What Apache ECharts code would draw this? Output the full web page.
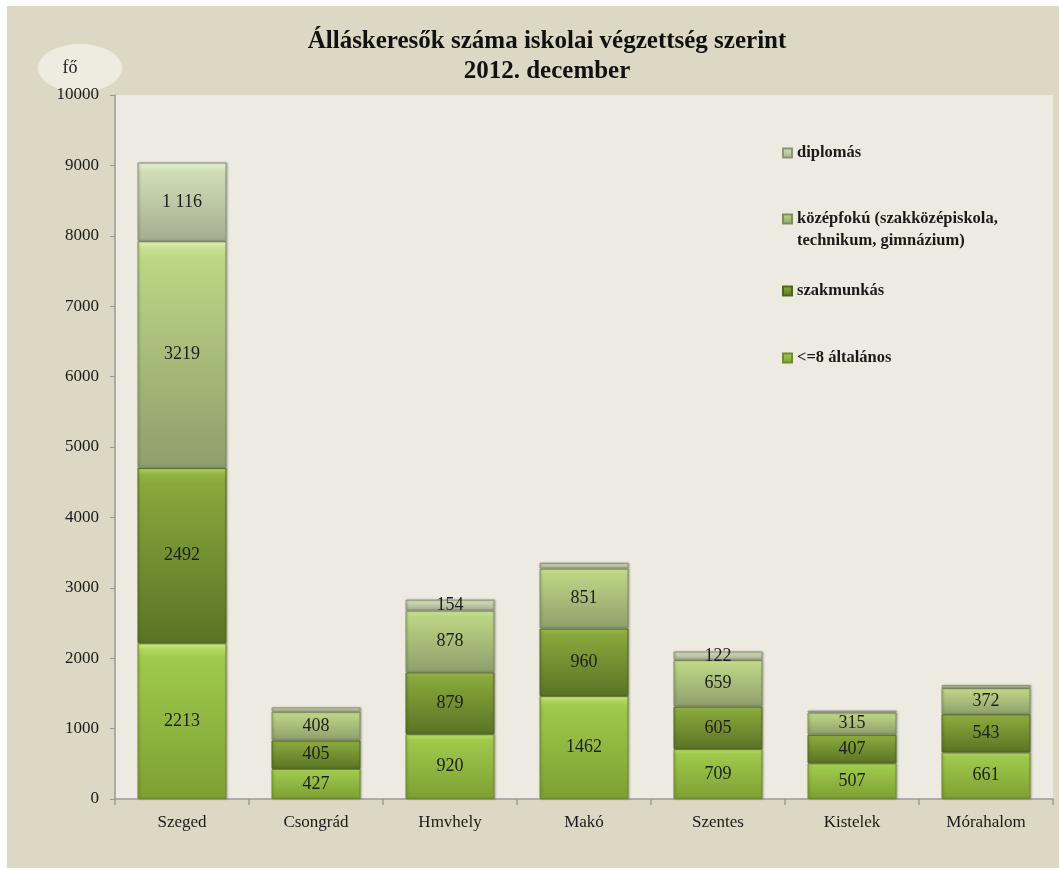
<!DOCTYPE html>
<html>
<head>
<meta charset="utf-8">
<script src="https://cdn.jsdelivr.net/npm/echarts@6/dist/echarts.min.js"></script>
<style>
  html, body { margin: 0; padding: 0; background: #ffffff; }
  #chart { position: absolute; left: 7px; top: 6px; width: 1052px; height: 862px; }
</style>
</head>
<body>
<div id="chart"></div>
<script>
// kategóriák és adatok (fő)
var categories = ['Szeged', 'Csongrád', 'Hmvhely', 'Makó', 'Szentes', 'Kistelek', 'Mórahalom'];
var altalanos = [2213, 427, 920, 1462, 709, 507, 661];
var szakmunkas = [2492, 405, 879, 960, 605, 407, 543];
var kozepfoku = [3219, 408, 878, 851, 659, 315, 372];
var diplomas = [1116, 61, 154, 82, 122, 25, 43];
var yMin = 0, yMax = 10000, yStep = 1000;

var serif = '"Liberation Serif", "DejaVu Serif", serif';
var KOZEP = 'középfokú (szakközépiskola, technikum, gimnázium)';

var chart = echarts.init(document.getElementById('chart'));

function grad(stops) {
  return new echarts.graphic.LinearGradient(0, 0, 0, 1, stops.map(function (s) {
    return { offset: s[0], color: s[1] };
  }));
}

function barSeries(name, data, colors, border, formatter) {
  return {
    name: name,
    type: 'bar',
    stack: 'total',
    barWidth: 89,
    data: data,
    itemStyle: {
      color: grad(colors),
      borderColor: border,
      borderWidth: 1,
      shadowColor: 'rgba(60,60,40,0.35)',
      shadowBlur: 2,
      shadowOffsetX: 1
    },
    label: {
      show: true,
      position: 'inside',
      fontFamily: serif,
      fontSize: 18,
      color: '#1e1e1e',
      formatter: formatter || function (p) { return p.value; }
    }
  };
}

// egyszerű, egyelemes jelmagyarázatok a pontos elhelyezéshez
function legendItem(name, top) {
  return {
    data: [name],
    left: 775,
    top: top,
    padding: 0,
    itemWidth: 9,
    itemHeight: 9,
    itemGap: 0,
    icon: 'rect',
    textStyle: { fontFamily: serif, fontSize: 16.5, fontWeight: 'bold', color: '#1a1a1a', lineHeight: 22 },
    formatter: function (n) {
      return n === KOZEP ? '\nközépfokú (szakközépiskola,\ntechnikum, gimnázium)' : n;
    }
  };
}

var option = {
  backgroundColor: '#ddd8c4',
  animation: false,
  title: {
    text: 'Álláskeresők száma iskolai végzettség szerint\n2012. december',
    left: 535,
    textAlign: 'center',
    top: 16,
    padding: 5,
    textStyle: { fontFamily: serif, fontSize: 25, fontWeight: 'bold', color: '#111', lineHeight: 30 }
  },
  graphic: [
    { type: 'ellipse', shape: { cx: 73, cy: 62, rx: 42, ry: 24 }, style: { fill: '#eeebe1' } },
    { type: 'text', x: 63, y: 62, style: { text: 'fő', fontFamily: serif, fontSize: 18, fill: '#1a1a1a', verticalAlign: 'middle', align: 'center' } }
  ],
  legend: [
    legendItem('diplomás', 136),
    legendItem(KOZEP, 180),
    legendItem('szakmunkás', 274),
    legendItem('<=8 általános', 341)
  ],
  grid: {
    left: 108, right: 6, top: 89, bottom: 69,
    show: true, backgroundColor: '#edeae1', borderWidth: 0
  },
  xAxis: {
    type: 'category',
    data: categories,
    axisLine: { lineStyle: { color: '#9a9a9a', width: 1.5 } },
    axisTick: { show: true, length: 6, lineStyle: { color: '#9a9a9a', width: 1.5 } },
    axisLabel: { fontFamily: serif, fontSize: 17, color: '#1a1a1a', margin: 15 }
  },
  yAxis: {
    type: 'value',
    min: yMin, max: yMax, interval: yStep,
    axisLine: { show: true, lineStyle: { color: '#9a9a9a', width: 1.5 } },
    axisTick: { show: true, length: 5, lineStyle: { color: '#9a9a9a' } },
    splitLine: { show: false },
    axisLabel: { fontFamily: serif, fontSize: 17, color: '#1a1a1a', margin: 16, formatter: function (v) { return String(v); } }
  },
  series: [
    barSeries('<=8 általános', altalanos,
      [[0, '#d9f09a'], [0.035, '#b4d963'], [0.09, '#9fca4c'], [1, '#7e9f33']], '#6f8c2c'),
    barSeries('szakmunkás', szakmunkas,
      [[0, '#b9d86a'], [0.035, '#94b443'], [0.09, '#89a83c'], [1, '#5a7325']], '#4f6620'),
    barSeries(KOZEP, kozepfoku,
      [[0, '#e4f2bd'], [0.035, '#c6df8e'], [0.09, '#bcd584'], [1, '#8e9f6d']], '#7f8d60'),
    barSeries('diplomás', diplomas,
      [[0, '#f4f7ea'], [0.05, '#dde8c6'], [0.12, '#d0ddb5'], [1, '#a5ad91']], '#8d947c',
      function (p) {
        if (p.value < 100) return '';
        return p.value >= 1000 ? Math.floor(p.value / 1000) + ' ' + String(p.value % 1000).padStart(3, '0') : p.value;
      })
  ]
};

chart.setOption(option);
</script>
</body>
</html>
